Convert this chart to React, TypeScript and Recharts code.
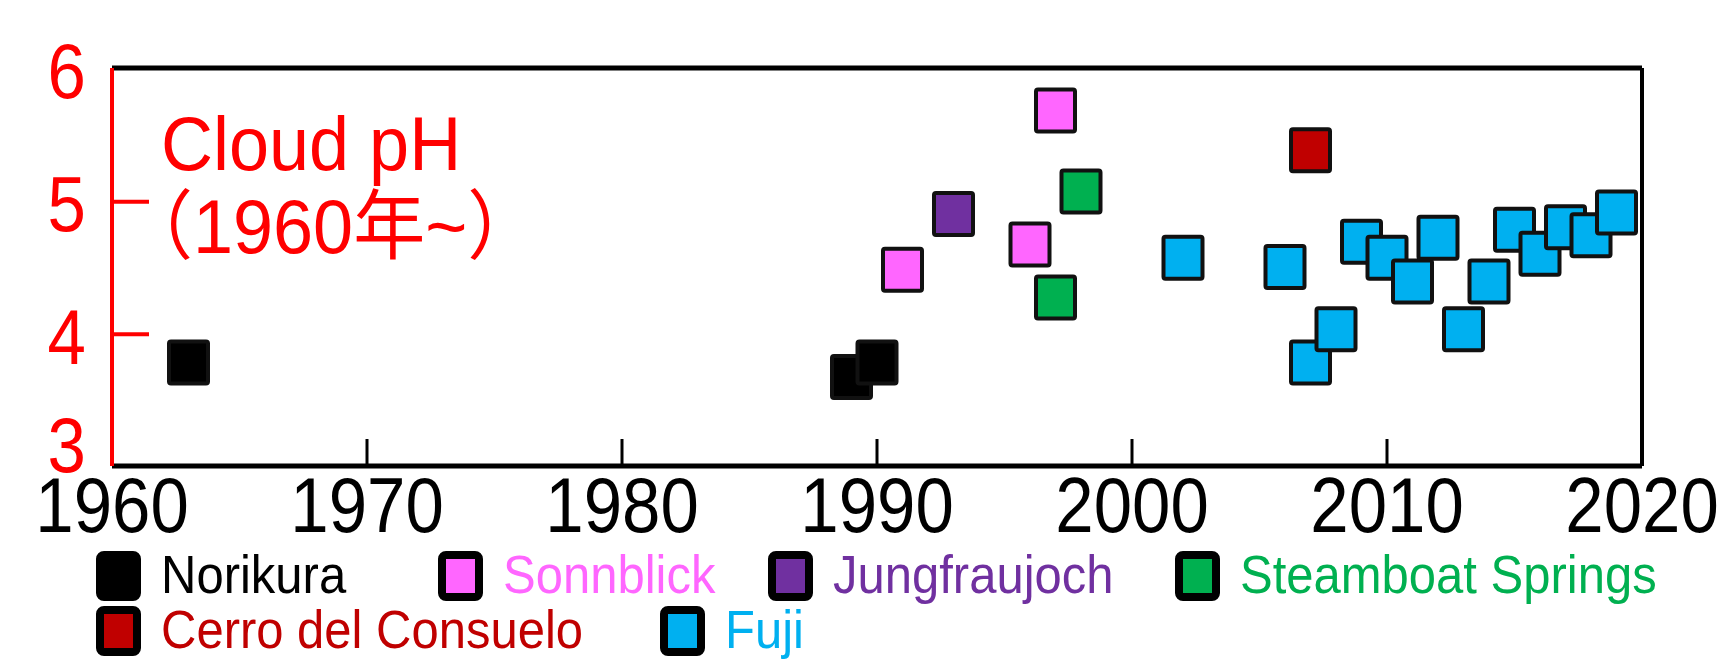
import { ScatterChart, Scatter, XAxis, YAxis, ReferenceLine } from "recharts";

const yearTicks = [1960, 1970, 1980, 1990, 2000, 2010, 2020];
const phTicks = [3, 4, 5, 6];

const norikuraYears = [1963, 1989, 1990];
const norikuraPh = [3.78, 3.67, 3.78];
const sonnblickYears = [1991, 1996, 1997];
const sonnblickPh = [4.48, 4.67, 5.68];
const jungfraujochYears = [1993];
const jungfraujochPh = [4.9];
const steamboatYears = [1997, 1998];
const steamboatPh = [4.27, 5.07];
const cerroYears = [2007];
const cerroPh = [5.38];
const fujiYears = [2002, 2006, 2007, 2008, 2009, 2010, 2011, 2012, 2013, 2014, 2015, 2016, 2017, 2018, 2019];
const fujiPh = [4.57, 4.5, 3.78, 4.03, 4.69, 4.57, 4.39, 4.72, 4.03, 4.39, 4.78, 4.6, 4.8, 4.74, 4.91];

const titleLines = ["Cloud pH", "（1960年~）"];

const FONT = "'Liberation Sans', Arial, 'Noto Sans CJK JP', sans-serif";
const RED = "#ff0000";
const W = 1724;
const H = 659;
const PLOT_LEFT = 112;
const PLOT_BOTTOM = 466;

const zip = (years: number[], ph: number[]) => years.map((year, i) => ({ year, ph: ph[i] }));

const series = [
  { name: "Norikura", color: "#000000", text: "#000000", data: zip(norikuraYears, norikuraPh) },
  { name: "Sonnblick", color: "#ff66ff", text: "#ff66ff", data: zip(sonnblickYears, sonnblickPh) },
  { name: "Jungfraujoch", color: "#7030a0", text: "#7030a0", data: zip(jungfraujochYears, jungfraujochPh) },
  { name: "Steamboat Springs", color: "#00b050", text: "#00b050", data: zip(steamboatYears, steamboatPh) },
  { name: "Cerro del Consuelo", color: "#c00000", text: "#c00000", data: zip(cerroYears, cerroPh) },
  { name: "Fuji", color: "#00b0f0", text: "#00b0f0", data: zip(fujiYears, fujiPh) },
];

// legend slots (marker left edge, row) – legend is laid out by hand like the original
const legendSlots = [
  { x: 96, row: 0 },
  { x: 438, row: 0 },
  { x: 768, row: 0 },
  { x: 1175, row: 0 },
  { x: 96, row: 1 },
  { x: 660, row: 1 },
];
const legendRowTop = [551, 606];

const squareShape = (fill: string) => (props: any) => {
  const { cx, cy } = props;
  if (cx == null || cy == null) return <g />;
  const w = 39;
  const h = 42;
  return (
    <rect
      x={cx - w / 2}
      y={cy - h / 2}
      width={w}
      height={h}
      rx={2}
      fill={fill}
      stroke="#111"
      strokeWidth={4}
    />
  );
};

const XTick = ({ x, payload }: any) => {
  const v = payload.value;
  const inner = v !== yearTicks[0] && v !== yearTicks[yearTicks.length - 1];
  return (
    <g>
      {inner && (
        <line x1={x} x2={x} y1={PLOT_BOTTOM} y2={PLOT_BOTTOM - 27} stroke="#000" strokeWidth={3} />
      )}
      <g transform={`translate(${x},${PLOT_BOTTOM}) scale(1,1.12)`}>
        <text x={0} y={59} textAnchor="middle" fontSize={69} fill="#000" fontFamily={FONT}>
          {v}
        </text>
      </g>
    </g>
  );
};

const YTick = ({ y, payload }: any) => {
  const v = payload.value;
  const inner = v !== phTicks[0] && v !== phTicks[phTicks.length - 1];
  const cy = y + (v === phTicks[0] ? -21 : 3);
  return (
    <g>
      {inner && <line x1={PLOT_LEFT} x2={PLOT_LEFT + 37} y1={y + 1} y2={y + 1} stroke={RED} strokeWidth={4} />}
      <g transform={`translate(86,${cy}) scale(1,1.12)`}>
        <text x={0} y={24.5} textAnchor="end" fontSize={69} fill={RED} fontFamily={FONT}>
          {v}
        </text>
      </g>
    </g>
  );
};

export default function App() {
  return (
    <div style={{ position: "relative", width: W, height: H, background: "#fff" }}>
      <style>{"body{margin:0}"}</style>
      <ScatterChart width={W} height={H} margin={{ top: 68, right: 82, bottom: 123, left: 0 }}>
        <ReferenceLine y={6} stroke="#000" strokeWidth={5} />
        <ReferenceLine x={2020} stroke="#000" strokeWidth={4} />
        <XAxis
          type="number"
          dataKey="year"
          domain={[1960, 2020]}
          ticks={yearTicks}
          interval={0}
          height={70}
          tickLine={false}
          axisLine={{ stroke: "#000", strokeWidth: 5 }}
          tick={<XTick />}
        />
        <YAxis
          type="number"
          dataKey="ph"
          domain={[3, 6]}
          ticks={phTicks}
          interval={0}
          width={PLOT_LEFT}
          tickLine={false}
          axisLine={{ stroke: RED, strokeWidth: 4 }}
          tick={<YTick />}
        />
        {series.map((s) => (
          <Scatter
            key={s.name}
            name={s.name}
            data={s.data}
            fill={s.color}
            shape={squareShape(s.color)}
            isAnimationActive={false}
          />
        ))}
      </ScatterChart>
      <svg
        width={W}
        height={H}
        style={{ position: "absolute", left: 0, top: 0, pointerEvents: "none" }}
      >
        <g transform="translate(161,170) scale(1,1.05)">
          <text fontSize={72} fill={RED} fontFamily={FONT}>
            {titleLines[0]}
          </text>
        </g>
        <g transform="translate(121,253) scale(1,1.05)">
          <text fontSize={72} fill={RED} fontFamily={FONT}>
            {titleLines[1]}
          </text>
        </g>
        {series.map((s, i) => {
          const slot = legendSlots[i];
          const top = legendRowTop[slot.row];
          return (
            <g key={s.name}>
              <rect
                x={slot.x + 4}
                y={top + 4}
                width={37}
                height={42}
                rx={4}
                fill={s.color}
                stroke="#000"
                strokeWidth={8}
              />
              <g transform={`translate(${slot.x + 65},${top + 42}) scale(1,1.1)`}>
                <text fontSize={49} fill={s.text} fontFamily={FONT}>
                  {s.name}
                </text>
              </g>
            </g>
          );
        })}
      </svg>
    </div>
  );
}
